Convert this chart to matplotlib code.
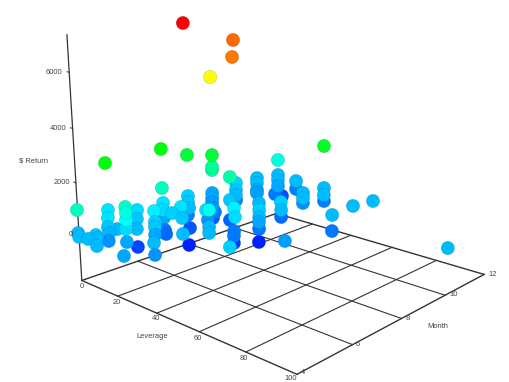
import matplotlib
matplotlib.use('Agg')
import matplotlib.pyplot as plt
from matplotlib.colors import LinearSegmentedColormap, Normalize

# values
leverage = [12.1,13.0,13.7,20.3,12.1,10.2,9.7,21.7,8.1,8.3,46.0,-2.9,4.2,6.0,7.3,8.1,15.3,16.5,15.4,15.9,17.1,2.7,6.6,13.0,8.0,1.5,5.0,8.8,9.5,10.3,16.5,5.9,26.7,30.0,28.0,12.0,15.7,17.9,18.7,5.3,9.5,7.1,8.2,10.0,12.6,13.6,17.5,28.5,1.7,5.3,9.0,3.5,8.1,11.7,20.9,31.3,16.9,29.8,34.3,-2.2,2.5,4.0,8.0,7.5,5.8,15.0,14.1,52.4,34.0,30.2,3.9,7.6,10.3,3.7,29.1,31.1,26.6,0.2,5.1,8.0,8.9,23.8,33.1,35.1,35.5,32.5,28.4,54.0,3.5,8.4,10.4,7.8,4.5,32.5,35.5,27.6,14.8,11.3,27.6,31.8,29.1,29.3,35.2,30.1,52.9,53.4,51.9,53.7,102.1,16.2,13.6,35.4,11.7]
month = [4.28,6.15,7.06,7.54,8.15,8.29,6.36,8.13,3.53,11.36,10.05,5.19,4.75,4.63,4.58,4.51,4.68,4.62,4.68,4.63,4.57,5.88,5.61,5.19,4.82,3.89,3.72,3.79,4.01,4.0,3.62,5.65,3.86,4.68,4.79,5.89,5.66,5.51,5.45,6.68,6.38,6.57,6.52,6.44,6.51,6.78,6.54,5.78,7.91,7.65,7.42,7.76,7.5,7.19,7.22,6.56,7.58,6.66,6.32,9.21,8.85,8.73,8.46,8.58,8.62,8.64,8.7,5.69,7.34,7.61,9.79,9.49,9.27,9.8,7.69,7.52,7.87,11.05,10.64,10.4,10.32,9.17,8.4,8.23,8.19,8.44,8.77,7.66,11.78,11.35,11.18,11.26,11.89,9.38,9.13,9.82,11.66,11.98,10.83,10.44,10.69,11.68,11.11,11.61,9.79,9.74,10.86,11.65,9.75,6.87,8.98,7.21,8.18]
returns = [2900,2950,2500,2500,1700,1500,1320,1500,1320,1060,2700,529,529,264,88,-177,1235,1060,750,440,0,440,264,176,176,176,176,176,264,176,176,-880,0,-177,176,617,353,264,0,529,440,0,-442,-530,353,529,264,176,353,264,176,-353,-700,-1200,440,900,-177,176,176,0,0,-100,-177,-400,-706,264,-618,353,440,617,396,264,176,-353,-353,-442,-970,176,176,0,-89,176,353,176,0,-442,-1200,-89,176,176,0,-442,-795,353,176,-530,176,-353,176,176,-177,176,176,-353,176,-442,176,176,176,7500,6573,6440,5250]

lev_ticks = [0, 20, 40, 60, 80, 100]
month_ticks = [4, 6, 8, 10, 12]
ret_ticks = [0, 2000, 4000, 6000]
FLOOR = -1750
TOP = 7300


def px_text(x, y, s, **kw):
    plt.gcf().text(x / 510, 1 - y / 382, s, fontsize=5.4, color='#444444', family='Liberation Sans',
                   ha=kw.pop('ha', 'center'), va='center', **kw)


def main():
    plt.figure(figsize=(5.10, 3.82), dpi=100)
    fig = plt.gcf()
    ax = fig.add_axes([22.6736 / 510, (-64 + 24.3347) / 382, 1, 510 / 382], projection='3d')
    ax.set_xlim(0, 100)
    ax.set_ylim(4, 12)
    ax.set_zlim(FLOOR, TOP)
    ax.view_init(15.2712, -47.5252)
    ax.set_proj_type('persp', focal_length=0.3434)
    ax.set_box_aspect((0.9608, 0.9514, 0.8192), zoom=0.9274)
    ax.set_axis_off()
    ax.computed_zorder = False

    # floor grid
    for lev in lev_ticks:
        edge = lev in (0, 100)
        ax.plot([lev, lev], [4, 12], [FLOOR, FLOOR], color='#333333', lw=1.0 if edge else 0.8, clip_on=False, zorder=1)
    for m in month_ticks:
        edge = m in (4, 12)
        ax.plot([0, 100], [m, m], [FLOOR, FLOOR], color='#333333', lw=1.0 if edge else 0.8, clip_on=False, zorder=1)
    ax.plot([0, 0], [4, 4], [FLOOR, TOP], color='#333333', lw=0.9, clip_on=False, zorder=1)
    for t in ret_ticks:
        ax.plot([0, -1.2], [4, 4], [t, t], color='#333333', lw=0.7, clip_on=False, zorder=1)

    cmap = LinearSegmentedColormap.from_list('ret', ['#0000ff', '#00ffff', '#00ff00', '#ffff00', '#ff0000'])
    ax.scatter(leverage, month, returns, c=returns, cmap=cmap, norm=Normalize(-1500, 7500), s=(13.4 * 0.72) ** 2,
               depthshade=False, linewidths=0.5, edgecolors=(0, 0.2, 0.4, 0.18), clip_on=False, zorder=2)

    # tick labels and axis titles
    for s, x, y in zip(lev_ticks, [82, 117, 156, 198, 244, 291], [287, 302, 319, 338, 358, 378]):
        px_text(x, y, str(s))
    for s, x, y in zip(month_ticks, [303, 358, 408, 454, 493], [372, 344, 318, 295, 274]):
        px_text(x, y, str(s))
    for s, x, y in zip(ret_ticks, [73, 70, 66, 62], [235, 182, 128, 73]):
        px_text(x, y, str(s), ha='right')
    px_text(34, 161, '$ Return')
    px_text(152, 337, 'Leverage')
    px_text(438, 327, 'Month')

    fig.savefig('out.png', dpi=100)


if __name__ == "__main__":
    main()
